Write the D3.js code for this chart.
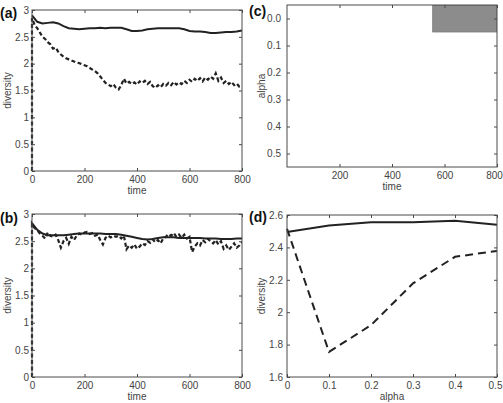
<!DOCTYPE html>
<html>
<head>
<meta charset="utf-8">
<script src="https://cdn.jsdelivr.net/npm/d3@7/dist/d3.min.js"></script>
<style>
  body { margin: 0; background: #fff; }
  svg text { font-family: "Liberation Sans", Arial, Helvetica, sans-serif; }
</style>
</head>
<body>
<svg id="fig" width="503" height="403"></svg>
<script>
// data

// sample times for the smooth (solid) curves and the noisy (dashed) curves
let solidTimes = [0, 20, 40, 60, 80, 100, 120, 140, 160, 180, 200, 220, 240, 260, 280, 300, 320, 340, 360, 380,
    400, 420, 440, 460, 480, 500, 520, 540, 560, 580, 600, 620, 640, 660, 680, 700, 720, 740, 760, 780, 800];
let dashTimes = [0, 0, 10, 20, 30, 40, 50, 60, 70, 80, 90, 100, 110, 120, 130, 140, 150, 160, 170, 180, 190,
    200, 210, 220, 230, 240, 250, 260, 270, 280, 290, 300, 310, 320, 330, 340, 350, 360, 370, 380, 390,
    400, 410, 420, 430, 440, 450, 460, 470, 480, 490, 500, 510, 520, 530, 540, 550, 560, 570, 580, 590,
    600, 610, 620, 630, 640, 650, 660, 670, 680, 690, 700, 710, 720, 730, 740, 750, 760, 770, 780, 790, 800];

// panel (a)
let aSolid = [2.90, 2.78, 2.75, 2.76, 2.77, 2.75, 2.70, 2.66, 2.65, 2.64, 2.65, 2.66, 2.66, 2.67, 2.66, 2.67,
    2.67, 2.67, 2.64, 2.61, 2.61, 2.62, 2.64, 2.65, 2.66, 2.66, 2.66, 2.66, 2.66, 2.64, 2.61, 2.60, 2.60,
    2.59, 2.57, 2.57, 2.58, 2.59, 2.59, 2.60, 2.62];
let aDashed = [0, 2.85, 2.72, 2.66, 2.58, 2.50, 2.46, 2.40, 2.36, 2.28, 2.30, 2.22, 2.17, 2.13, 2.10, 2.08,
    2.06, 2.04, 2.02, 2.01, 1.99, 1.97, 1.95, 1.92, 1.89, 1.86, 1.82, 1.76, 1.70, 1.64, 1.61, 1.58, 1.62,
    1.55, 1.52, 1.60, 1.72, 1.63, 1.66, 1.62, 1.65, 1.61, 1.67, 1.64, 1.68, 1.62, 1.66, 1.58, 1.55, 1.60,
    1.56, 1.62, 1.59, 1.64, 1.60, 1.66, 1.61, 1.65, 1.62, 1.68, 1.64, 1.70, 1.66, 1.72, 1.68, 1.73, 1.67,
    1.74, 1.70, 1.76, 1.72, 1.82, 1.68, 1.74, 1.64, 1.68, 1.62, 1.66, 1.60, 1.63, 1.57, 1.55];

// panel (b)
let bSolid = [2.83, 2.71, 2.64, 2.61, 2.61, 2.61, 2.61, 2.62, 2.63, 2.64, 2.64, 2.64, 2.64, 2.64, 2.63, 2.63,
    2.63, 2.62, 2.60, 2.58, 2.56, 2.54, 2.53, 2.54, 2.56, 2.57, 2.57, 2.57, 2.56, 2.56, 2.56, 2.56, 2.56,
    2.55, 2.55, 2.55, 2.54, 2.54, 2.54, 2.55, 2.55];
let bDashed = [0, 2.82, 2.74, 2.70, 2.64, 2.60, 2.55, 2.66, 2.60, 2.58, 2.62, 2.52, 2.38, 2.50, 2.56, 2.45,
    2.58, 2.52, 2.60, 2.64, 2.62, 2.66, 2.67, 2.63, 2.65, 2.60, 2.62, 2.52, 2.44, 2.56, 2.60, 2.57, 2.60,
    2.58, 2.60, 2.55, 2.60, 2.35, 2.42, 2.38, 2.44, 2.36, 2.40, 2.46, 2.43, 2.50, 2.47, 2.53, 2.48, 2.52,
    2.46, 2.55, 2.58, 2.63, 2.60, 2.65, 2.58, 2.62, 2.56, 2.62, 2.55, 2.58, 2.30, 2.40, 2.46, 2.42, 2.52,
    2.48, 2.54, 2.50, 2.46, 2.52, 2.44, 2.50, 2.36, 2.42, 2.34, 2.40, 2.46, 2.38, 2.42, 2.48];

// panel (c): shaded cells (alpha row, time span)
let cCells = [{alpha: 0.0, t0: 555, t1: 800}];

// panel (d)
let dAlpha = [0, 0.1, 0.2, 0.3, 0.4, 0.5];
let dSolid = [2.495, 2.535, 2.555, 2.556, 2.565, 2.54];
let dDashed = [2.515, 1.755, 1.92, 2.178, 2.342, 2.378];

// ticks
let divTicks = [0, 0.5, 1, 1.5, 2, 2.5, 3];
let timeTicks = [0, 200, 400, 600, 800];
let cTimeTicks = [200, 400, 600, 800];
let cAlphaTicks = [0, 0.1, 0.2, 0.3, 0.4, 0.5];
let dDivTicks = [1.6, 1.8, 2, 2.2, 2.4, 2.6];
let dAlphaTicks = [0, 0.1, 0.2, 0.3, 0.4, 0.5];

let axisColor = "#4a4a4a";
let labelColor = "#444";
let lineColor = "#222";

let svg = d3.select("#fig");

function shortNum(d) {
    return String(+d.toFixed(2));
}

function drawPanel(p) {
    let g = svg.append("g");
    let x = d3.scaleLinear().domain(p.xDomain).range([p.left, p.right]);
    let y = d3.scaleLinear().domain(p.yDomain).range([p.bottom, p.top]);

    let clipId = "clip" + p.name;
    svg.append("clipPath").attr("id", clipId)
        .append("rect")
        .attr("x", p.left - 2).attr("y", p.top)
        .attr("width", p.right - p.left + 2).attr("height", p.bottom - p.top + 1);

    let plot = g.append("g").attr("clip-path", "url(#" + clipId + ")");
    if (p.drawMarks) p.drawMarks(plot, x, y);

    // box
    g.append("rect")
        .attr("x", p.left).attr("y", p.top)
        .attr("width", p.right - p.left).attr("height", p.bottom - p.top)
        .attr("fill", "none").attr("stroke", axisColor).attr("stroke-width", 1);

    let bottom = g.append("g").attr("transform", "translate(0," + p.bottom + ")")
        .call(d3.axisBottom(x).tickValues(p.xTicks).tickFormat(p.xFormat)
            .tickSizeInner(-3).tickSizeOuter(0).tickPadding(5));
    let left = g.append("g").attr("transform", "translate(" + p.left + ",0)")
        .call(d3.axisLeft(y).tickValues(p.yTicks).tickFormat(p.yFormat)
            .tickSizeInner(-3).tickSizeOuter(0).tickPadding(p.yPad));
    let top = g.append("g").attr("transform", "translate(0," + p.top + ")")
        .call(d3.axisTop(x).tickValues(p.xTicks).tickFormat("")
            .tickSizeInner(-3).tickSizeOuter(0));
    let right = g.append("g").attr("transform", "translate(" + p.right + ",0)")
        .call(d3.axisRight(y).tickValues(p.yTicks).tickFormat("")
            .tickSizeInner(-3).tickSizeOuter(0));

    [bottom, left, top, right].forEach(function (a) {
        a.select(".domain").remove();
        a.selectAll("line").attr("stroke", axisColor);
        a.selectAll("text")
            .attr("fill", labelColor)
            .style("font-size", "10px");
    });

    // keep the last label on the page when the box touches the right edge
    if (p.lastXShift) {
        bottom.selectAll(".tick:last-of-type text").attr("dx", p.lastXShift);
    }

    g.append("text")
        .attr("x", (p.left + p.right) / 2)
        .attr("y", p.bottom + 23)
        .attr("text-anchor", "middle")
        .attr("fill", labelColor)
        .style("font-size", "10px")
        .text(p.xLabel);

    g.append("text")
        .attr("transform", "translate(" + p.yLabelX + "," + ((p.top + p.bottom) / 2) + ") rotate(-90)")
        .attr("text-anchor", "middle")
        .attr("fill", labelColor)
        .style("font-size", "10px")
        .text(p.yLabel);

    g.append("text")
        .attr("x", p.tagX).attr("y", p.tagY)
        .attr("fill", "#111")
        .style("font-size", "14px")
        .style("font-weight", "bold")
        .text(p.tag);
}

function timeSeries(solid, dashed) {
    return function (plot, x, y) {
        let line = d3.line().x(function (d) { return x(d[0]); }).y(function (d) { return y(d[1]); });
        plot.append("path")
            .datum(d3.zip(dashTimes, dashed))
            .attr("d", line)
            .attr("fill", "none")
            .attr("stroke", lineColor)
            .attr("stroke-width", 2.2)
            .attr("stroke-dasharray", "4,2.5");
        plot.append("path")
            .datum(d3.zip(solidTimes, solid))
            .attr("d", line)
            .attr("fill", "none")
            .attr("stroke", lineColor)
            .attr("stroke-width", 2);
    };
}

drawPanel({
    name: "a", tag: "(a)", tagX: 0, tagY: 18,
    left: 32, right: 242, top: 10, bottom: 171,
    xDomain: [0, 800], yDomain: [0, 3],
    xTicks: timeTicks, yTicks: divTicks,
    xFormat: shortNum, yFormat: shortNum, yPad: 3,
    xLabel: "time", yLabel: "diversity", yLabelX: 10.5,
    drawMarks: timeSeries(aSolid, aDashed)
});

drawPanel({
    name: "b", tag: "(b)", tagX: 0, tagY: 223,
    left: 32, right: 242, top: 214, bottom: 377,
    xDomain: [0, 800], yDomain: [0, 3],
    xTicks: timeTicks, yTicks: divTicks,
    xFormat: shortNum, yFormat: shortNum, yPad: 3,
    xLabel: "time", yLabel: "diversity", yLabelX: 10.5,
    drawMarks: timeSeries(bSolid, bDashed)
});

drawPanel({
    name: "c", tag: "(c)", tagX: 249, tagY: 16,
    left: 287, right: 497, top: 5, bottom: 167,
    xDomain: [0, 800], yDomain: [0.55, -0.05],
    xTicks: cTimeTicks, yTicks: cAlphaTicks,
    xFormat: shortNum, yFormat: function (d) { return d.toFixed(1); }, yPad: 6,
    xLabel: "time", yLabel: "alpha", yLabelX: 265, lastXShift: -3,
    drawMarks: function (plot, x, y) {
        plot.selectAll("rect.cell")
            .data(cCells)
            .enter()
            .append("rect")
            .attr("class", "cell")
            .attr("x", function (d) { return x(d.t0); })
            .attr("y", function (d) { return y(d.alpha - 0.05); })
            .attr("width", function (d) { return x(d.t1) - x(d.t0); })
            .attr("height", function (d) { return y(d.alpha + 0.05) - y(d.alpha - 0.05); })
            .attr("fill", "#8c8c8c")
            .attr("stroke", "#7a7a7a")
            .attr("stroke-width", 0.8);
    }
});

drawPanel({
    name: "d", tag: "(d)", tagX: 249, tagY: 222,
    left: 287, right: 497, top: 215, bottom: 377,
    xDomain: [0, 0.5], yDomain: [1.6, 2.6],
    xTicks: dAlphaTicks, yTicks: dDivTicks,
    xFormat: shortNum, yFormat: shortNum, yPad: 4,
    xLabel: "alpha", yLabel: "diversity", yLabelX: 265, lastXShift: -2,
    drawMarks: function (plot, x, y) {
        let line = d3.line().x(function (d) { return x(d[0]); }).y(function (d) { return y(d[1]); });
        plot.append("path")
            .datum(d3.zip(dAlpha, dDashed))
            .attr("d", line)
            .attr("fill", "none")
            .attr("stroke", lineColor)
            .attr("stroke-width", 2)
            .attr("stroke-dasharray", "8,5");
        plot.append("path")
            .datum(d3.zip(dAlpha, dSolid))
            .attr("d", line)
            .attr("fill", "none")
            .attr("stroke", lineColor)
            .attr("stroke-width", 2);
    }
});
</script>
</body>
</html>
